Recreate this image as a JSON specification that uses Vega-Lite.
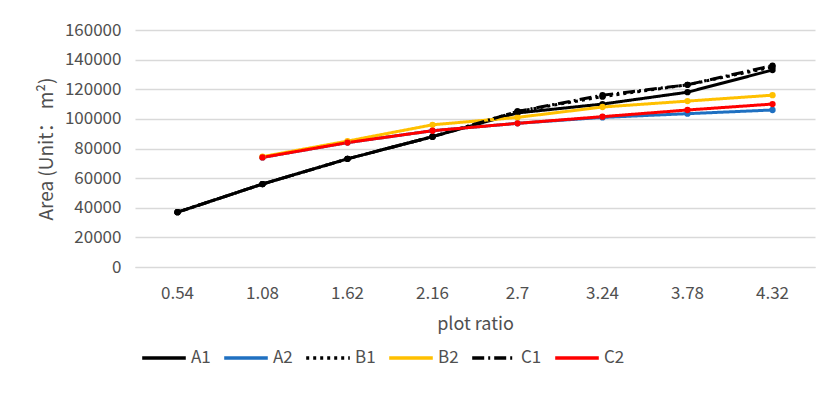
{
  "$schema": "https://vega.github.io/schema/vega-lite/v6.json",
  "autosize": {"type": "none"},
  "width": 680,
  "height": 237,
  "padding": {"left": 135, "top": 30, "right": 21, "bottom": 127},
  "background": "white",
  "config": {
    "view": {"stroke": null},
    "font": "Noto Sans CJK SC",
    "axis": {"labelFont": "Noto Sans CJK SC", "titleFont": "Noto Sans CJK SC", "labelColor": "#505050", "titleColor": "#505050", "titleFontWeight": "normal"},
    "legend": {"labelFont": "Noto Sans CJK SC"}
  },
  "data": {
    "values": [
      {"ratio": "0.54", "series": "A1", "area": 37000},
      {"ratio": "1.08", "series": "A1", "area": 56000},
      {"ratio": "1.62", "series": "A1", "area": 73000},
      {"ratio": "2.16", "series": "A1", "area": 88000},
      {"ratio": "2.7", "series": "A1", "area": 104000},
      {"ratio": "3.24", "series": "A1", "area": 110000},
      {"ratio": "3.78", "series": "A1", "area": 118000},
      {"ratio": "4.32", "series": "A1", "area": 133000},
      {"ratio": "1.08", "series": "A2", "area": 74000},
      {"ratio": "1.62", "series": "A2", "area": 84000},
      {"ratio": "2.16", "series": "A2", "area": 92000},
      {"ratio": "2.7", "series": "A2", "area": 97000},
      {"ratio": "3.24", "series": "A2", "area": 101000},
      {"ratio": "3.78", "series": "A2", "area": 103500},
      {"ratio": "4.32", "series": "A2", "area": 106000},
      {"ratio": "0.54", "series": "B1", "area": 37000},
      {"ratio": "1.08", "series": "B1", "area": 56000},
      {"ratio": "1.62", "series": "B1", "area": 73000},
      {"ratio": "2.16", "series": "B1", "area": 88000},
      {"ratio": "2.7", "series": "B1", "area": 105000},
      {"ratio": "3.24", "series": "B1", "area": 115000},
      {"ratio": "3.78", "series": "B1", "area": 123000},
      {"ratio": "4.32", "series": "B1", "area": 135000},
      {"ratio": "1.08", "series": "B2", "area": 74500},
      {"ratio": "1.62", "series": "B2", "area": 85000},
      {"ratio": "2.16", "series": "B2", "area": 96000},
      {"ratio": "2.7", "series": "B2", "area": 101000},
      {"ratio": "3.24", "series": "B2", "area": 108000},
      {"ratio": "3.78", "series": "B2", "area": 112000},
      {"ratio": "4.32", "series": "B2", "area": 116000},
      {"ratio": "0.54", "series": "C1", "area": 37000},
      {"ratio": "1.08", "series": "C1", "area": 56000},
      {"ratio": "1.62", "series": "C1", "area": 73000},
      {"ratio": "2.16", "series": "C1", "area": 88000},
      {"ratio": "2.7", "series": "C1", "area": 105000},
      {"ratio": "3.24", "series": "C1", "area": 116000},
      {"ratio": "3.78", "series": "C1", "area": 123000},
      {"ratio": "4.32", "series": "C1", "area": 136000},
      {"ratio": "1.08", "series": "C2", "area": 74000},
      {"ratio": "1.62", "series": "C2", "area": 84000},
      {"ratio": "2.16", "series": "C2", "area": 92000},
      {"ratio": "2.7", "series": "C2", "area": 97000},
      {"ratio": "3.24", "series": "C2", "area": 101500},
      {"ratio": "3.78", "series": "C2", "area": 106000},
      {"ratio": "4.32", "series": "C2", "area": 110000}
    ]
  },
  "encoding": {
    "x": {
      "field": "ratio", "type": "ordinal",
      "sort": ["0.54", "1.08", "1.62", "2.16", "2.7", "3.24", "3.78", "4.32"],
      "scale": {"type": "band", "paddingInner": 0, "paddingOuter": 0},
      "axis": {"title": "plot ratio", "labelAngle": 0, "ticks": false, "domain": true, "domainColor": "#d9d9d9", "labelFontSize": 17, "labelPadding": 18, "titleFontSize": 18, "titlePadding": 14}
    },
    "y": {
      "field": "area", "type": "quantitative",
      "scale": {"domain": [0, 160000]},
      "axis": {"title": "Area (Unit： m²)", "values": [0, 20000, 40000, 60000, 80000, 100000, 120000, 140000, 160000], "format": "d", "domain": false, "ticks": false, "gridColor": "#d9d9d9", "gridWidth": 1.5, "labelFontSize": 17, "labelPadding": 14, "titleFontSize": 19, "titlePadding": 8}
    },
    "color": {
      "field": "series", "type": "nominal",
      "scale": {"domain": ["A1", "A2", "B1", "B2", "C1", "C2"], "range": ["#000000", "#1f70c1", "#000000", "#ffc000", "#000000", "#ff0000"]},
      "legend": {"title": null, "orient": "none", "legendX": 5, "legendY": 304, "direction": "horizontal", "symbolType": "stroke", "symbolSize": 1900, "symbolStrokeWidth": 3.5, "labelFontSize": 17, "labelColor": "#505050", "labelOffset": 3, "columnPadding": 6}
    },
    "strokeDash": {
      "field": "series", "type": "nominal",
      "scale": {"domain": ["A1", "A2", "B1", "B2", "C1", "C2"], "range": [[1, 0], [1, 0], [3, 4], [1, 0], [12, 4, 2, 4], [1, 0]]},
      "legend": {"title": null, "orient": "none", "legendX": 5, "legendY": 304, "direction": "horizontal", "symbolType": "stroke", "symbolSize": 1900, "symbolStrokeWidth": 3.5, "labelFontSize": 17, "labelColor": "#505050", "labelOffset": 3, "columnPadding": 6}
    }
  },
  "layer": [
    {"mark": {"type": "line", "strokeWidth": 3}},
    {"mark": {"type": "point", "filled": true, "size": 40, "opacity": 1}, "encoding": {"strokeDash": {"value": [1, 0]}}}
  ]
}
